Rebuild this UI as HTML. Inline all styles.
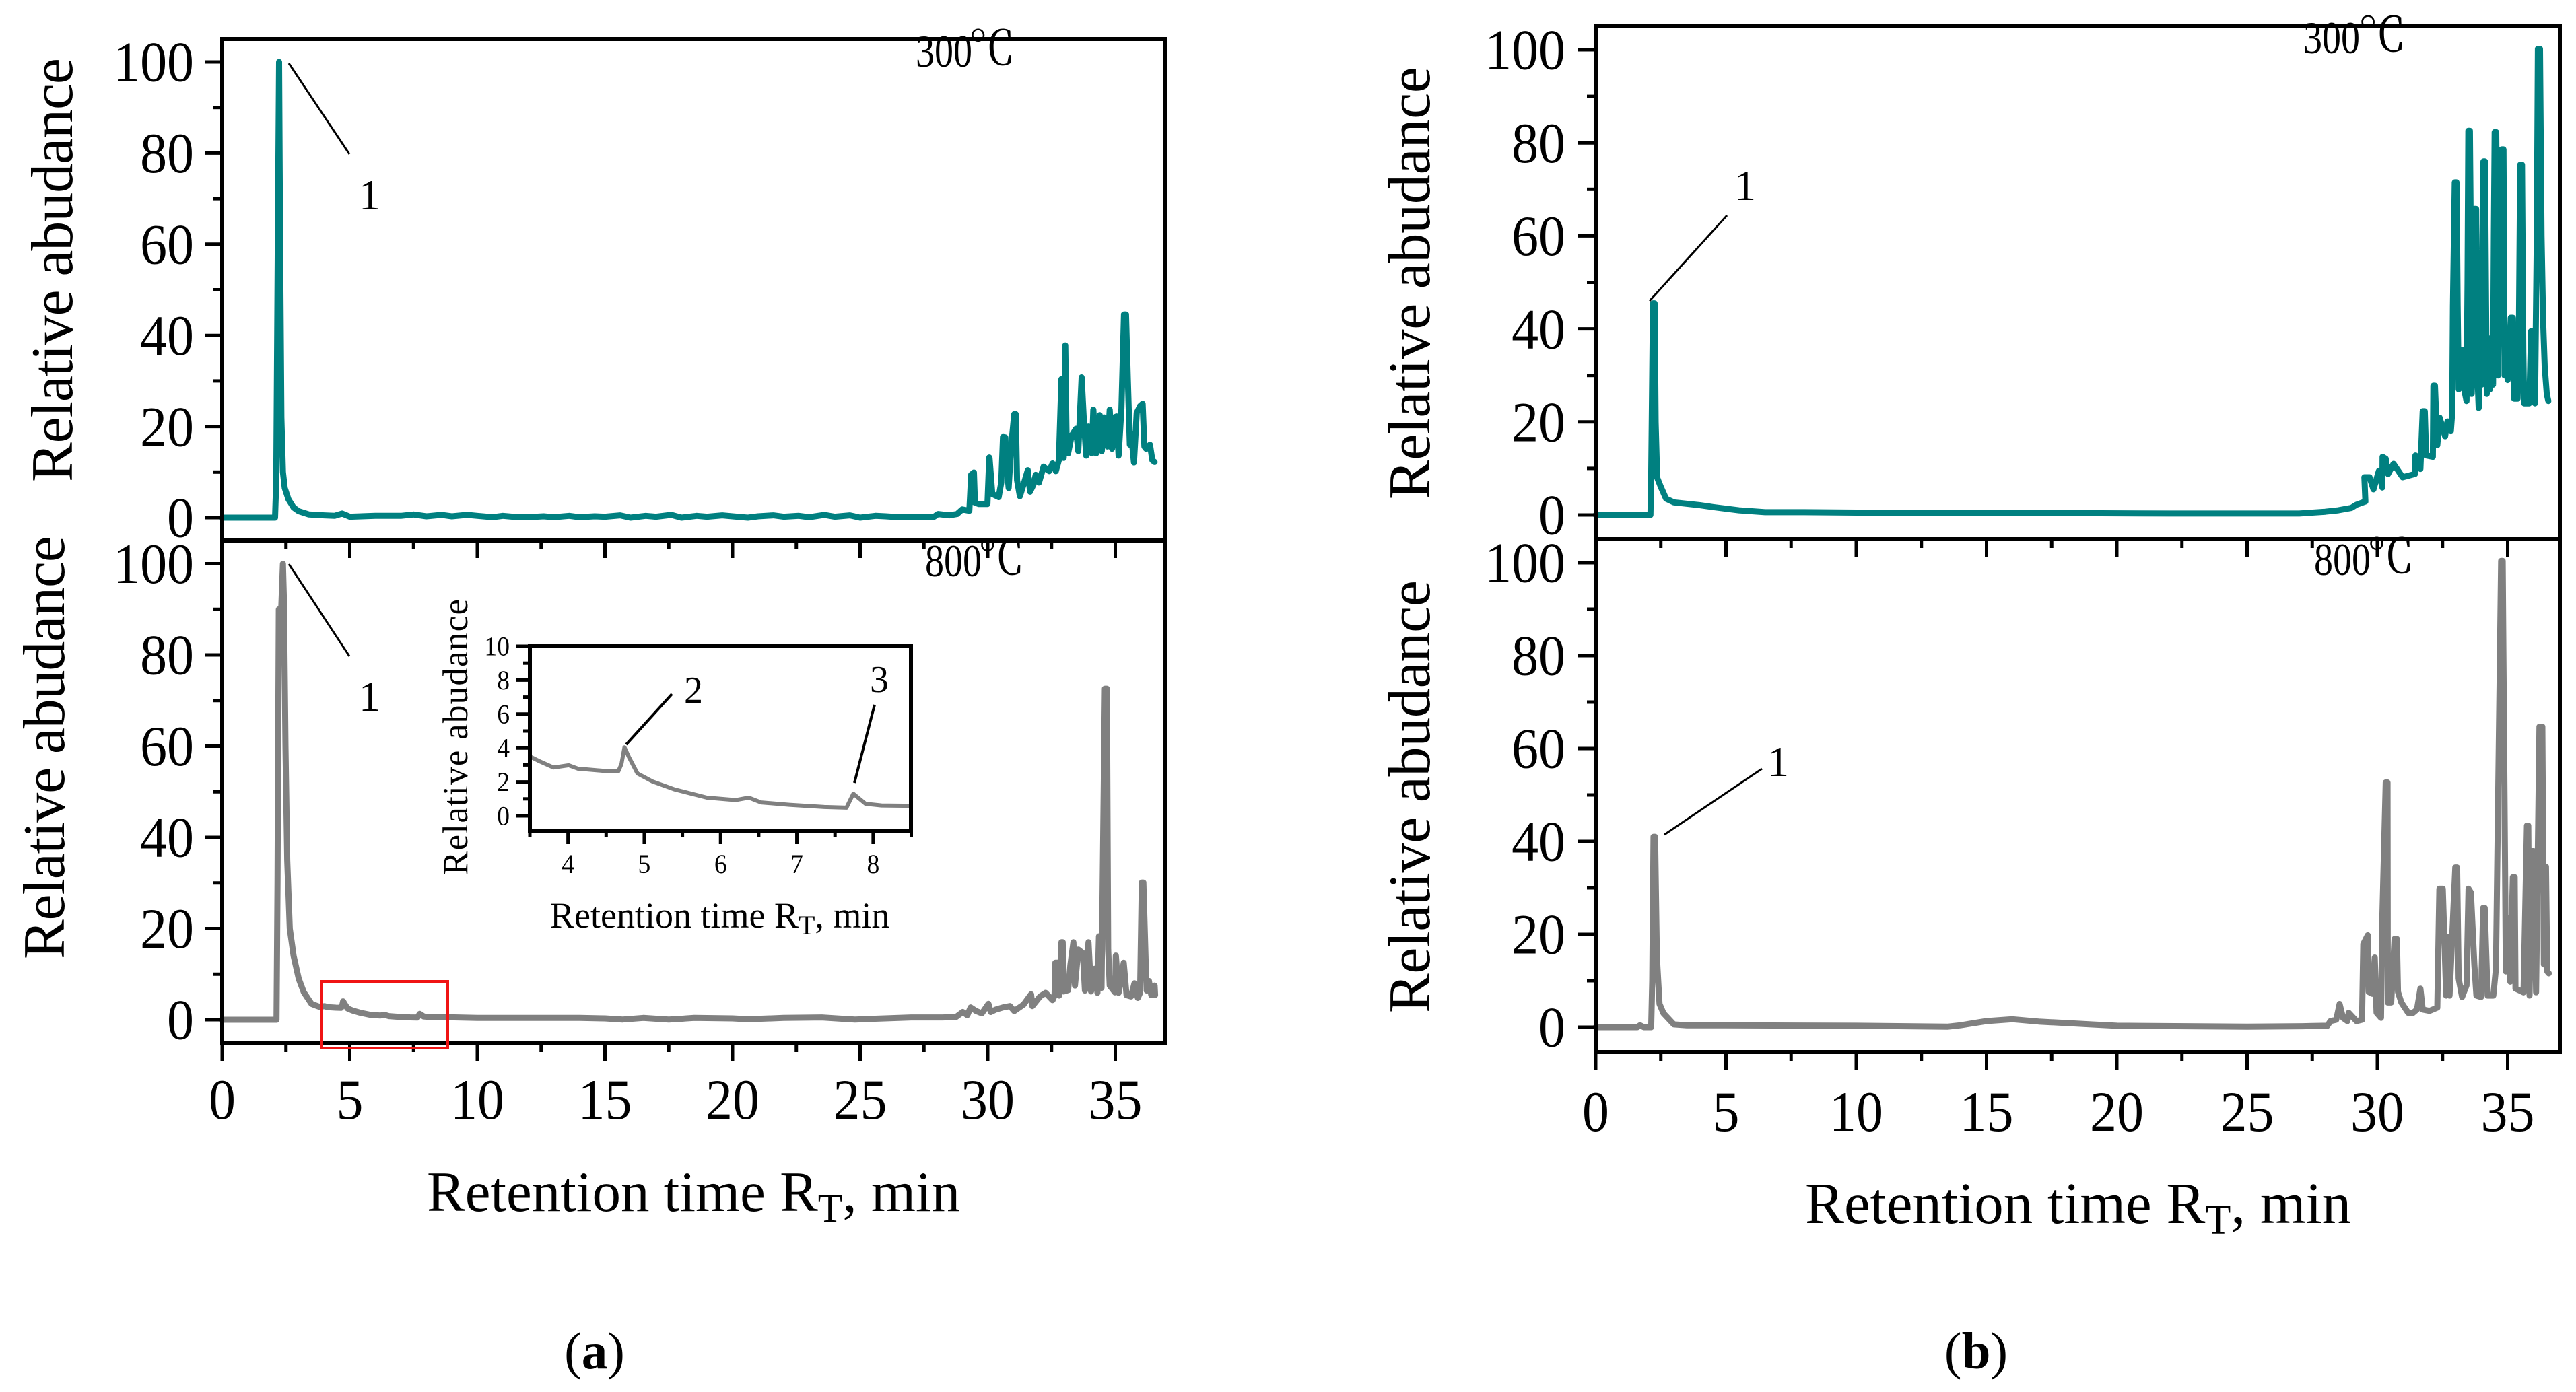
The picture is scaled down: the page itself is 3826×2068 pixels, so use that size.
<!DOCTYPE html>
<html lang="en">
<head>
<meta charset="utf-8">
<title>Chromatograms at 300 and 800 °C</title>
<style>
html,body{margin:0;padding:0;background:#fff;width:3826px;height:2068px;overflow:hidden}
svg{position:absolute;left:0;top:0;display:block}
text{font-family:"Liberation Serif","Noto Serif CJK SC",serif;fill:#000}
text.deg{font-family:"Noto Serif CJK SC",serif}
</style>
</head>
<body>
<svg id="fig" xmlns="http://www.w3.org/2000/svg" width="3826" height="2068" viewBox="0 0 3826 2068">
  <rect width="3826" height="2068" fill="#fff"/>
  <g id="plots"></g>

  <rect x="478" y="1458" width="187" height="99" fill="none" stroke="#f01414" stroke-width="4"/>

  <!-- axis titles -->
  <text transform="translate(107,716) rotate(-90)" font-size="88" textLength="630">Relative abudance</text>
  <text transform="translate(95,1425) rotate(-90)" font-size="88" textLength="629">Relative abudance</text>
  <text transform="translate(2123,742) rotate(-90)" font-size="88" textLength="643">Relative abudance</text>
  <text transform="translate(2123,1505) rotate(-90)" font-size="88" textLength="643">Relative abudance</text>
  <text x="634" y="1799" font-size="85">Retention time R<tspan font-size="60" dy="16">T</tspan><tspan dy="-16">, min</tspan></text>
  <text x="2681" y="1817" font-size="87">Retention time R<tspan font-size="62" dy="16">T</tspan><tspan dy="-16">, min</tspan></text>

  <!-- temperature labels -->
  <g>
    <text x="1360" y="99" font-size="68" textLength="84" lengthAdjust="spacingAndGlyphs">300</text>
    <text class="deg" x="1438" y="96" font-size="70" textLength="70" lengthAdjust="spacingAndGlyphs">℃</text>
  </g>
  <g>
    <text x="1374" y="856" font-size="68" textLength="84" lengthAdjust="spacingAndGlyphs">800</text>
    <text class="deg" x="1452" y="853" font-size="70" textLength="70" lengthAdjust="spacingAndGlyphs">℃</text>
  </g>
  <g>
    <text x="3421" y="79" font-size="68" textLength="84" lengthAdjust="spacingAndGlyphs">300</text>
    <text class="deg" x="3502" y="76" font-size="70" textLength="72" lengthAdjust="spacingAndGlyphs">℃</text>
  </g>
  <g>
    <text x="3437" y="854" font-size="68" textLength="84" lengthAdjust="spacingAndGlyphs">800</text>
    <text class="deg" x="3515" y="851" font-size="70" textLength="71" lengthAdjust="spacingAndGlyphs">℃</text>
  </g>

  <!-- peak annotations -->
  <g stroke="#000" stroke-width="3" fill="none">
    <line x1="429" y1="94" x2="519" y2="229"/>
    <line x1="429" y1="838" x2="519" y2="975"/>
    <line x1="2450" y1="447" x2="2565" y2="320"/>
    <line x1="2472" y1="1240" x2="2617" y2="1142"/>
    <line x1="998" y1="1031" x2="930" y2="1106" stroke-width="4"/>
    <line x1="1299" y1="1047" x2="1269" y2="1163" stroke-width="4"/>
  </g>
  <text x="549" y="311" font-size="64" text-anchor="middle">1</text>
  <text x="549" y="1056" font-size="64" text-anchor="middle">1</text>
  <text x="2592" y="297" font-size="64" text-anchor="middle">1</text>
  <text x="2641" y="1153" font-size="64" text-anchor="middle">1</text>
  <text x="1030" y="1044" font-size="56" text-anchor="middle">2</text>
  <text x="1306" y="1028" font-size="56" text-anchor="middle">3</text>

  <!-- inset titles -->
  <text transform="translate(694,1300) rotate(-90)" font-size="53" textLength="410">Relative abudance</text>
  <text x="817" y="1378" font-size="54">Retention time R<tspan font-size="40" dy="10">T</tspan><tspan dy="-10">, min</tspan></text>

  <!-- sub-figure captions -->
  <text x="883" y="2033" font-size="77" text-anchor="middle">(<tspan font-weight="bold">a</tspan>)</text>
  <text x="2935" y="2033" font-size="77" text-anchor="middle">(<tspan font-weight="bold">b</tspan>)</text>
</svg>

<script>
// ---- axis tick labels ----
const xTickLabels = [0, 5, 10, 15, 20, 25, 30, 35];
const xMinorTicks = [2.5, 7.5, 12.5, 17.5, 22.5, 27.5, 32.5];
const yTickLabels = [0, 20, 40, 60, 80, 100];
const yMinorTicks = [10, 30, 50, 70, 90];
const insetXTickLabels = [4, 5, 6, 7, 8];
const insetXMinorTicks = [3.5, 4.5, 5.5, 6.5, 7.5, 8.5];
const insetYTickLabels = [0, 2, 4, 6, 8, 10];
const insetYMinorTicks = [1, 3, 5, 7, 9];

// ---- panel (a) 300 C ----
const aTopTimes = [
0,2.07,2.12,2.18,2.23,2.27,2.32,2.38,2.45,2.6,
2.8,3.0,3.4,4,4.4,4.7,5,6,7,7.5,
8,8.6,9,9.6,10,10.6,11,11.6,12,12.6,
13,13.6,14,14.6,15,15.6,16,16.6,17,17.6,
18,18.6,19,19.6,20,20.6,21,21.6,22,22.6,
23,23.6,24,24.6,25,25.6,26,26.5,26.9,
27.9,28.05,28.5,28.8,29,29.28,29.3,29.35,29.46,29.5,
29.64,29.99,30.06,30.07,30.18,30.43,30.53,30.6,30.69,30.74,
30.82,30.91,31.04,31.1,31.15,31.26,31.4,31.57,31.66,31.79,
31.88,32.01,32.19,32.41,32.54,32.67,32.79,32.89,32.98,33.04,
33.09,33.15,33.29,33.46,33.55,33.68,33.77,33.86,33.95,34.08,
34.14,34.25,34.39,34.47,34.56,34.69,34.78,34.87,34.96,35.05,
35.13,35.24,35.34,35.42,35.49,35.57,35.62,35.73,35.84,35.97,
36.07,36.14,36.21,36.36,36.45,36.54];
const aTopValues = [
0,0,8,60,100,60,22,10,6.5,4,
2.2,1.4,.7,.5,.4,.9,.2,.4,.4,.7,
.3,.6,.3,.6,.4,.1,.4,.1,.1,.3,
.1,.4,.1,.3,.2,.5,0,.4,.2,.6,
0,.4,.2,.5,.3,0,.3,.5,.2,.4,
.1,.6,.2,.5,0,.4,.3,.1,.2,
.2,.8,.5,.8,1.8,1.5,3.8,9.4,9.9,3.3,
3,3,13.2,13.1,5.2,4.5,7.7,17.7,17.6,11.6,
6.5,15.1,22.7,22.7,8.2,4.7,7.2,10.4,5.7,7.2,
9.4,7.7,11.2,10.2,11.9,10.2,12.6,30.4,13.1,37.8,
17.6,14.1,18,19.5,14.6,30.8,21,13.6,20,14.1,
23.7,14.1,22.5,14.6,22,15.6,23.7,15.1,22,22.2,
13.6,24,44.6,44.6,30.4,16,18.5,12.1,23,24.5,
25,15.6,15.1,16,12.6,12.2];

// ---- panel (a) 800 C ----
const aBottomTimes = [
0,2.13,2.17,2.22,2.28,2.38,2.42,2.48,2.55,2.65,
2.8,3.0,3.2,3.5,
3.61,3.81,4.01,4.13,4.45,4.66,4.7,4.74,4.8,4.91,
5.11,5.4,5.82,6.2,6.37,6.53,6.9,7.36,7.65,7.74,
7.9,8.11,8.49,10,12,14,15,15.7,16.5,17.5,
18.5,20,20.6,22,23.5,24.8,25.5,27,28.23,28.76,
29.02,29.2,29.33,29.55,29.77,30.03,30.12,30.3,30.6,30.87,
31.04,31.4,31.7,31.75,32.05,32.27,32.54,32.62,32.65,32.76,
32.8,32.89,32.94,32.98,33.15,33.24,33.36,33.42,33.55,33.73,
33.81,33.95,34.05,34.2,34.3,34.36,34.46,34.59,34.67,34.72,
34.78,34.99,35.02,35.13,35.33,35.44,35.62,35.75,35.88,35.97,
36.04,36.1,36.19,36.23,36.32,36.41,36.54,36.56];
const aBottomValues = [
0,0,30,90,85,100,92,60,35,20,
14,9,6,3.5,
3.25,2.85,2.98,2.78,2.66,2.63,3.05,4.04,3.45,2.5,
2.02,1.55,1.07,.93,1.07,.79,.65,.52,.48,1.3,
.71,.61,.59,.4,.4,.4,.3,.05,.4,.05,
.4,.3,.1,.4,.5,.05,.2,.5,.5,.6,
1.7,1,2.7,1.9,1.4,3.5,1.7,2.2,2.7,3,
1.9,3.3,5.6,3,5.1,5.9,4.3,5.3,12.5,12.5,
5.3,17,17,6.2,6.5,12,17,7.5,15.4,14.6,
6.4,17,6.2,11.2,5.9,18.3,7,72.6,72.6,15.4,
7.5,6,14.1,5.9,12.5,5.4,5.1,8,4.8,5.9,
30.1,30.1,12.7,6.4,8.5,5.4,7.5,5.4];

// ---- inset of panel (a) ----
const insetTimes = [3.5,3.61,3.81,4.01,4.13,4.45,4.66,4.7,4.74,4.8,4.91,5.11,5.4,5.82,6.2,6.37,6.53,6.9,7.36,7.65,7.74,7.9,8.11,8.49];
const insetValues = [3.5,3.25,2.85,2.98,2.78,2.66,2.63,3.05,4.04,3.45,2.5,2.02,1.55,1.07,.93,1.07,.79,.65,.52,.48,1.3,.71,.61,.59];

// ---- panel (b) 300 C ----
const bTopTimes = [
0,2.1,2.13,2.2,2.26,2.3,2.36,2.5,2.7,3,
4,4.5,5.5,6.5,8,10,11,14,18,22,
27,28,28.5,29,29.2,29.54,29.5,29.7,29.85,30.06,
30.19,30.2,30.32,30.41,30.62,30.97,31.44,31.46,31.65,31.74,
31.82,31.87,32.13,32.15,32.21,32.3,32.39,32.6,32.69,32.82,
32.87,32.9,32.97,33.04,33.08,33.12,33.2,33.28,33.33,33.42,
33.46,33.49,33.55,33.6,33.62,33.68,33.72,33.79,33.84,33.89,
33.95,34.0,34.04,34.07,34.13,34.17,34.2,34.26,34.32,34.38,
34.44,34.47,34.5,34.56,34.6,34.63,34.7,34.77,34.84,34.88,
34.94,35.0,35.06,35.12,35.2,35.25,35.38,35.42,35.48,35.55,
35.6,35.63,35.83,35.9,35.98,36.05,36.12,36.16,36.24,36.3,
36.36,36.42,36.5,36.56];
const bTopValues = [
0,0,8,45.5,45.5,20,8,6,3.5,2.7,
2.1,1.7,1,.6,.6,.5,.4,.4,.4,.3,
.3,.7,1,1.5,2.2,2.9,8.1,8.1,5.5,9.5,
5.9,12.5,12.1,8.8,11,8.1,8.8,12.8,9.9,22.3,
22.3,12.8,12.5,27.8,27.8,15,20.9,16.9,20.1,18,
22,45,71.5,71.5,45,27,35.5,35.5,27,24.5,
50,82.6,82.6,50,26,40,65.8,65.8,30,23,
35,28,60,76,76,45,26,38,27,38,
28,60,82.3,82.3,55,30,65,78.6,78.6,30,
36,29,35,42.4,42.4,25,25,32,75.3,75.3,
35,24,24,39.5,39.5,24,60,100.2,100.2,60,
42,32,26,24.5];

// ---- panel (b) 800 C ----
const bBottomTimes = [
0,1.6,1.7,1.85,2.13,2.17,2.22,2.28,2.35,2.45,
2.6,3,3.5,5,10,13.5,14,15,16,17,
18,19,20,25,27.13,28.08,28.2,28.42,28.55,28.68,
28.85,28.9,29.2,29.41,29.46,29.63,29.67,29.8,29.9,29.97,
30.14,30.19,30.32,30.39,30.4,30.53,30.66,30.75,30.79,30.92,
31.18,31.35,31.52,31.65,31.74,32,32.3,32.38,32.51,32.64,
32.73,32.77,32.99,33.06,33.12,33.25,33.42,33.5,33.59,33.72,
33.8,33.98,34.06,34.12,34.23,34.45,34.55,34.75,34.81,34.93,
35,35.1,35.2,35.27,35.3,35.61,35.74,35.79,35.84,35.93,
36,36.09,36.22,36.33,36.39,36.47,36.52,36.58];
const bBottomValues = [
0,0,.4,0,0,10,41,41,15,5,
3,.6,.4,.4,.3,.1,.4,1.3,1.7,1.2,
.9,.6,.3,.1,.2,.3,1.3,1.6,5,2,
1.3,3.1,1.3,1.6,17.9,19.8,7.6,7.2,15,3.1,
2,23.8,52.7,52.7,5.3,5.3,19,19,7.6,5.3,
3.1,3,3.8,8.3,3.8,3.5,4.2,29.8,29.8,6.8,
19.4,6.8,34.4,34.4,10.5,6.5,9,29.8,29,13.5,
6.8,6.5,25.7,25.7,6.8,6.8,12.7,100.4,100.4,12,
23.5,9.8,32.3,32.3,8.3,7.5,43.4,43.4,6.8,37.9,
37.9,7.5,64.7,64.7,13.5,34.6,12,11.6];

const svgNS = 'http://www.w3.org/2000/svg';
const plots = document.getElementById('plots');

function mk(tag, attrs, parent) {
  const el = document.createElementNS(svgNS, tag);
  for (const k in attrs) el.setAttribute(k, attrs[k]);
  parent.appendChild(el);
  return el;
}

// Draw one axes box with its ticks and its curve.
function drawPanel(o) {
  const g = mk('g', {}, plots);
  
  
  const sx = v => o.x0 + (v - o.xMin) * o.xUnit;
  const sy = v => o.y0 - v * o.yUnit;

  const curve = mk('polyline', {
    points: o.times.map((t, i) => sx(t).toFixed(1) + ',' + sy(o.values[i]).toFixed(1)).join(' '),
    fill: 'none', stroke: o.color, 'stroke-width': o.lineWidth,
    'stroke-linejoin': 'round', 'stroke-linecap': 'round'
  }, g);
  
  

  const frame = mk('rect', {
    x: o.left, y: o.top, width: o.right - o.left, height: o.bottom - o.top,
    fill: 'none', stroke: '#000', 'stroke-width': o.frameWidth
  }, g);
  
  

  o.xMajor.forEach(v => {
    const t = mk('line', {x1: sx(v), x2: sx(v), y1: o.bottom, y2: o.bottom + o.major, stroke: '#000', 'stroke-width': o.tickWidth}, g);
    
    
    if (o.showXLabels) {
      const l = mk('text', {transform: 'translate(' + sx(v) + ',' + o.xLabelY + ') scale(0.94,1)', 'font-size': o.fontSize, 'text-anchor': 'middle'}, g);
      l.textContent = v;
      
      
    }
  });
  o.xMinor.forEach(v => {
    const t = mk('line', {x1: sx(v), x2: sx(v), y1: o.bottom, y2: o.bottom + o.minor, stroke: '#000', 'stroke-width': o.tickWidth}, g);
    
    
  });
  o.yMajor.forEach(v => {
    const t = mk('line', {x1: o.left - o.major, x2: o.left, y1: sy(v), y2: sy(v), stroke: '#000', 'stroke-width': o.tickWidth}, g);
    
    
    const l = mk('text', {transform: 'translate(' + o.yLabelX + ',' + (sy(v) + o.fontSize * 0.338) + ') scale(0.94,1)', 'font-size': o.fontSize, 'text-anchor': 'end'}, g);
    l.textContent = v;
    
    
  });
  o.yMinor.forEach(v => {
    const t = mk('line', {x1: o.left - o.minor, x2: o.left, y1: sy(v), y2: sy(v), stroke: '#000', 'stroke-width': o.tickWidth}, g);
    
    
  });
}

const teal = '#008080', grey = '#808080';
const mainStyle = {
  xMin: 0, lineWidth: 9, frameWidth: 6, tickWidth: 5, major: 26, minor: 13, fontSize: 85,
  xMajor: xTickLabels, xMinor: xMinorTicks, yMajor: yTickLabels, yMinor: yMinorTicks
};

drawPanel(Object.assign({}, mainStyle, {
  name: 'panel-a-300c', times: aTopTimes, values: aTopValues, color: teal,
  x0: 330, xUnit: 37.9, y0: 769, yUnit: 6.77,
  left: 330, right: 1731, top: 58, bottom: 803, yLabelX: 288, showXLabels: false
}));
drawPanel(Object.assign({}, mainStyle, {
  name: 'panel-a-800c', times: aBottomTimes, values: aBottomValues, color: grey,
  x0: 330, xUnit: 37.9, y0: 1515, yUnit: 6.775,
  left: 330, right: 1731, top: 803, bottom: 1550, yLabelX: 288, showXLabels: true, xLabelY: 1662
}));
drawPanel(Object.assign({}, mainStyle, {
  name: 'panel-b-300c', times: bTopTimes, values: bTopValues, color: teal,
  x0: 2370, xUnit: 38.7, y0: 765, yUnit: 6.91,
  left: 2370, right: 3802, top: 38, bottom: 801, yLabelX: 2325, showXLabels: false
}));
drawPanel(Object.assign({}, mainStyle, {
  name: 'panel-b-800c', times: bBottomTimes, values: bBottomValues, color: grey,
  x0: 2370, xUnit: 38.7, y0: 1526, yUnit: 6.9,
  left: 2370, right: 3802, top: 801, bottom: 1563, yLabelX: 2325, showXLabels: true, xLabelY: 1680
}));
drawPanel({
  name: 'inset-a-800c', times: insetTimes, values: insetValues, color: grey,
  xMin: 3.5, x0: 787, xUnit: 113.3, y0: 1212, yUnit: 25.2,
  left: 787, right: 1353, top: 960, bottom: 1234,
  lineWidth: 6, frameWidth: 6, tickWidth: 5, major: 20, minor: 10, fontSize: 40,
  xMajor: insetXTickLabels, xMinor: insetXMinorTicks, yMajor: insetYTickLabels, yMinor: insetYMinorTicks,
  yLabelX: 757, showXLabels: true, xLabelY: 1297
});
</script>
</body>
</html>
